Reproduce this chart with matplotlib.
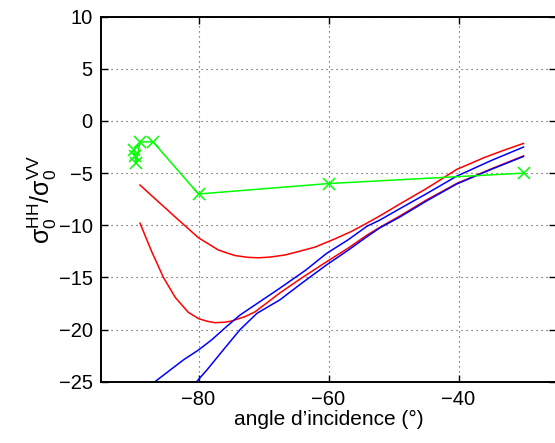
import matplotlib
matplotlib.use("Agg")
import matplotlib.pyplot as plt

plt.rcParams['font.family'] = ['Liberation Sans', 'DejaVu Sans']
plt.rcParams['mathtext.fontset'] = 'custom'
plt.rcParams['mathtext.rm'] = 'Liberation Sans'
plt.rcParams['mathtext.it'] = 'Liberation Sans:italic'

# mesures (vert)
mes_x = [-90.0, -89.8, -89.6, -89.0, -87.0, -80.0, -60.0, -30.0]
mes_y = [-2.8, -3.4, -4.0, -2.0, -2.0, -7.0, -6.0, -5.0]

# modele 1 (rouge haut)
r1_x = [-89.0, -86.7, -84.65, -83.6, -80.0, -76.95, -75.4, -74.4, -72.5, -70.8, -69.0, -66.7,
        -64.5, -62.1, -59.0, -56.5, -54.1, -52.1, -49.0, -45.0, -42.3, -40.3, -36.0, -33.0, -30.0]
r1_y = [-6.14, -7.45, -8.6, -9.2, -11.2, -12.37, -12.7, -12.9, -13.07, -13.12, -13.05, -12.85,
        -12.5, -12.1, -11.3, -10.6, -9.8, -9.1, -7.95, -6.5, -5.45, -4.65, -3.5, -2.8, -2.15]

# modele 2 (rouge bas)
r2_x = [-89.0, -87.2, -85.4, -83.6, -81.57, -80.0, -78.7, -77.5, -76.0, -74.9, -72.85, -71.3,
        -69.5, -67.5, -64.0, -60.3, -57.0, -54.1, -52.1, -49.0, -45.0, -40.3, -35.0, -30.0]
r2_y = [-9.8, -12.53, -15.0, -16.9, -18.35, -18.95, -19.2, -19.34, -19.3, -19.18, -18.76, -18.3,
        -17.45, -16.5, -15.0, -13.5, -12.2, -10.95, -10.2, -9.1, -7.6, -6.0, -4.6, -3.35]

# modele 3 (bleu haut)
b1_x = [-88.5, -86.7, -82.3, -80.0, -78.0, -75.7, -73.6, -70.5, -67.5, -63.5,
        -60.3, -57.0, -54.1, -52.1, -49.0, -45.0, -40.3, -35.0, -30.0]
b1_y = [-25.8, -25.0, -22.9, -21.96, -21.0, -19.72, -18.6, -17.3, -16.04, -14.3,
        -12.7, -11.4, -10.1, -9.5, -8.4, -7.0, -5.3, -3.8, -2.5]

# modele 4 (bleu bas)
b2_x = [-81.0, -80.3, -78.7, -76.2, -73.6, -71.0, -67.5, -64.0, -60.3, -57.0, -54.1,
        -52.1, -49.0, -45.0, -40.3, -35.0, -30.0]
b2_y = [-25.6, -25.0, -23.87, -21.96, -20.0, -18.44, -17.16, -15.5, -13.8, -12.4, -11.1,
        -10.25, -9.2, -7.7, -6.05, -4.65, -3.4]

fig = plt.figure(figsize=(5.55, 4.43), dpi=100)
ax = fig.add_axes([101 / 555, 61.3 / 443, 455 / 555, 365 / 443])

ax.plot(r1_x, r1_y, color=(1, 0, 0), lw=1.1)
ax.plot(r2_x, r2_y, color=(1, 0, 0), lw=1.1)
ax.plot(b1_x, b1_y, color=(0, 0, 1), lw=1.1)
ax.plot(b2_x, b2_y, color=(0, 0, 1), lw=1.1)
ax.plot(mes_x, mes_y, color=(0, 1, 0), lw=1.1, marker='x', ms=8, mew=1.1)

ax.set_xlim(-95, -25)
ax.set_ylim(-25, 10)
ax.set_xticks([-80, -60, -40])
ax.set_yticks(range(-25, 11, 5))
ax.grid(True, color='0.25', linestyle=(0, (1, 3.5)), lw=0.8)
ax.tick_params(direction='in', top=True, right=True, length=5, width=1.0, labelsize=14.5, pad=6)
for s in ax.spines.values():
    s.set_linewidth(1.4)

ax.set_xlabel('angle d\u2019incidence (°)', fontsize=15, labelpad=1)
ax.set_ylabel(r'$\mathrm{\sigma}_0^{\mathrm{HH}}/\mathrm{\sigma}_0^{\mathrm{VV}}$', fontsize=18, labelpad=0)

fig.savefig('out.png', dpi=100)
